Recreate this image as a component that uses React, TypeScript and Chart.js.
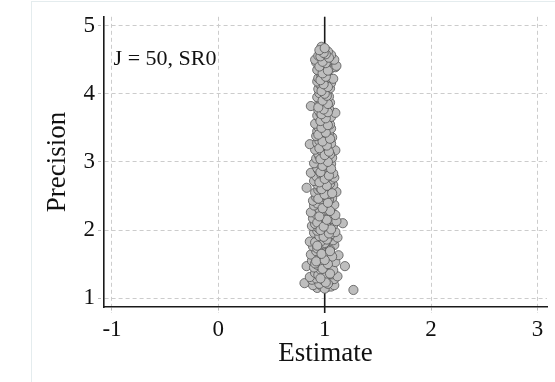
import React, { useEffect, useRef } from "react";
import { Chart, registerables } from "chart.js";

Chart.register(...registerables);

const xTicks = [-1, 0, 1, 2, 3];
const yTicks = [1, 2, 3, 4, 5];
const annotationText = "J = 50, SR0";
const xTitle = "Estimate";
const yTitle = "Precision";
const refEstimate = 1;

// Estimates (x) and precisions (y)
const estimates = [
  1.27, 0.93, 1.02, 0.97, 1.06, 0.89, 1.0, 1.09,
  0.81, 0.95, 1.04, 0.88, 1.09, 0.99, 0.92, 1.03,
  0.86, 0.97, 1.07, 0.91, 1.01, 0.94, 1.12, 1.0,
  0.83, 1.19, 0.96, 1.05, 0.9, 1.0, 1.08, 0.93,
  0.98, 0.88, 1.06, 1.02, 0.94, 1.1, 0.91,
  0.99, 0.87, 1.04, 0.95, 1.13, 0.92, 1.01, 1.07,
  0.96, 1.03, 0.89, 1.09, 0.99, 0.93, 1.05,
  0.86, 1.0, 1.08, 0.94, 1.03, 0.97, 1.12, 0.91,
  0.98, 1.06, 0.9, 1.01, 0.95, 1.1, 0.93,
  1.17, 0.97, 1.04, 0.88, 1.0, 0.94, 1.08, 0.91,
  1.02, 0.96, 0.89, 1.06, 0.99, 1.11, 0.93,
  1.0, 0.92, 1.07, 0.97, 1.03, 0.87, 1.1,
  0.95, 1.05, 0.9, 1.01, 0.98, 1.09, 0.93,
  0.89, 1.02, 0.96, 1.07, 0.99, 0.92, 1.04,
  0.97, 1.05, 0.91, 1.0, 1.11, 0.94, 1.03,
  0.83, 0.96, 1.02, 1.08, 0.93, 0.99, 1.05,
  0.9, 1.0, 1.06, 0.95, 1.03, 0.92, 1.09,
  0.87, 1.08, 0.97, 1.01, 0.94, 1.04, 0.99,
  0.93, 1.02, 0.96, 1.06, 0.9, 1.0,
  0.98, 1.04, 0.92, 1.01, 0.95, 1.07, 0.99,
  1.1, 0.94, 1.0, 0.97, 1.05, 0.91, 1.02,
  0.86, 0.96, 1.03, 0.99, 1.06, 0.93, 1.01,
  0.95, 1.02, 0.98, 1.07, 0.92, 1.0,
  0.97, 1.04, 0.93, 1.01, 0.96, 1.06, 0.99,
  0.94, 1.0, 1.05, 0.97, 1.02, 0.91,
  0.98, 1.03, 0.95, 1.0, 0.93, 1.06, 0.99,
  1.1, 0.96, 1.01, 0.94, 1.04, 0.98,
  0.87, 0.97, 1.02, 0.95, 1.05, 1.0,
  0.96, 1.01, 0.93, 1.04, 0.98, 1.0,
  0.95, 1.02, 0.98, 0.94, 1.05, 1.0,
  0.97, 1.03, 0.95, 1.0, 0.93, 1.06,
  0.99, 0.94, 1.04, 0.97, 1.02, 1.08,
  0.96, 1.01, 0.93, 1.05, 0.98, 1.1,
  1.11, 0.95, 1.0, 0.92, 1.03, 0.97,
  0.91, 1.09, 0.98, 1.02, 0.94, 1.06, 1.0,
  0.96, 1.01, 0.98, 1.03, 0.97,
  // second pass, denser core
  1.01, 0.96, 1.05, 0.98, 1.03, 0.92, 1.0, 0.97, 1.05, 0.93, 1.02, 0.99, 1.04, 0.96, 1.06,
  0.99, 1.02, 0.95, 1.05, 0.98, 1.03, 0.94, 1.0, 1.07, 0.97, 1.02, 0.95, 1.0, 1.04, 0.96, 1.06, 0.98,
  1.03, 0.96, 1.0, 1.04, 0.95, 1.02, 0.98, 1.05, 0.94, 1.01, 0.97, 1.03, 0.96, 1.01, 0.97, 1.03, 0.99, 0.94, 1.03, 0.98, 1.02,
  1.0, 0.97, 1.03, 0.99, 0.96, 1.01, 0.98, 1.03, 0.95, 1.01, 0.98, 1.04, 0.96, 1.01, 0.99, 0.95, 1.0,
];

const precisions = [
  1.12, 1.15, 1.16, 1.18, 1.17, 1.19, 1.14, 1.19,
  1.22, 1.21, 1.24, 1.27, 1.28, 1.26, 1.29, 1.21,
  1.31, 1.33, 1.35, 1.37, 1.38, 1.34, 1.32, 1.31,
  1.47, 1.47, 1.42, 1.44, 1.45, 1.48, 1.41, 1.49,
  1.52, 1.55, 1.57, 1.59, 1.58, 1.53, 1.51,
  1.62, 1.64, 1.66, 1.68, 1.63, 1.69, 1.67, 1.61,
  1.72, 1.74, 1.76, 1.78, 1.79, 1.73, 1.71,
  1.83, 1.81, 1.85, 1.87, 1.88, 1.84, 1.89, 1.82,
  1.92, 1.94, 1.96, 1.98, 1.91, 1.97, 1.99,
  2.1, 2.02, 2.04, 2.06, 2.08, 2.03, 2.07, 2.09,
  2.12, 2.14, 2.17, 2.16, 2.19, 2.13, 2.11,
  2.21, 2.23, 2.25, 2.27, 2.29, 2.26, 2.22,
  2.31, 2.33, 2.36, 2.38, 2.34, 2.37, 2.39,
  2.43, 2.41, 2.45, 2.47, 2.49, 2.48, 2.44,
  2.51, 2.53, 2.55, 2.57, 2.56, 2.59, 2.58,
  2.62, 2.61, 2.64, 2.66, 2.67, 2.69, 2.68,
  2.72, 2.71, 2.74, 2.76, 2.78, 2.79, 2.77,
  2.84, 2.83, 2.81, 2.86, 2.88, 2.89, 2.82,
  2.91, 2.93, 2.96, 2.97, 2.98, 2.99,
  3.01, 3.03, 3.05, 3.07, 3.08, 3.06, 3.09,
  3.17, 3.12, 3.14, 3.16, 3.11, 3.18, 3.19,
  3.26, 3.21, 3.23, 3.25, 3.27, 3.28, 3.29,
  3.31, 3.33, 3.35, 3.36, 3.38, 3.39,
  3.41, 3.42, 3.45, 3.46, 3.48, 3.49, 3.44,
  3.51, 3.53, 3.55, 3.57, 3.58, 3.56,
  3.61, 3.63, 3.65, 3.67, 3.68, 3.66, 3.69,
  3.72, 3.71, 3.74, 3.76, 3.78, 3.79,
  3.82, 3.81, 3.84, 3.86, 3.87, 3.89,
  3.91, 3.93, 3.95, 3.96, 3.98, 3.99,
  4.01, 4.03, 4.05, 4.07, 4.08, 4.09,
  4.11, 4.13, 4.15, 4.17, 4.18, 4.16,
  4.21, 4.23, 4.24, 4.26, 4.28, 4.22,
  4.31, 4.33, 4.35, 4.36, 4.38, 4.39,
  4.41, 4.42, 4.44, 4.46, 4.48, 4.49,
  4.5, 4.5, 4.52, 4.54, 4.56, 4.57, 4.59,
  4.61, 4.63, 4.66, 4.62, 4.69,
  // second pass, denser core
  1.23, 1.29, 1.36, 1.43, 1.5, 1.54, 1.56, 1.65, 1.69, 1.77, 1.86, 1.9, 1.95, 2.0, 2.01,
  2.05, 2.15, 2.2, 2.28, 2.32, 2.4, 2.46, 2.52, 2.54, 2.6, 2.65, 2.7, 2.75, 2.8, 2.85, 2.9, 2.94,
  3.0, 3.04, 3.1, 3.15, 3.2, 3.24, 3.3, 3.34, 3.4, 3.43, 3.5, 3.54, 3.6, 3.64, 3.7, 3.73, 3.77, 3.8, 3.85, 3.9, 3.97,
  4.0, 4.04, 4.1, 4.14, 4.2, 4.25, 4.3, 4.34, 4.4, 4.45, 4.47, 4.53, 4.55, 4.58, 4.6, 4.64, 4.67,
];

const FONT = "'Liberation Serif', 'Times New Roman', serif";

export default function App() {
  const canvasRef = useRef<HTMLCanvasElement | null>(null);

  useEffect(() => {
    const canvas = canvasRef.current;
    if (!canvas) return;
    const n = Math.min(estimates.length, precisions.length);
    const points = [];
    for (let i = 0; i < n; i++) points.push({ x: estimates[i], y: precisions[i] });

    const refLine = {
      id: "refLine",
      beforeDatasetsDraw(chart: any) {
        const { ctx, chartArea, scales } = chart;
        const px = scales.x.getPixelForValue(refEstimate);
        ctx.save();
        ctx.strokeStyle = "#1a1a1a";
        ctx.lineWidth = 1.6;
        ctx.beginPath();
        ctx.moveTo(px, chartArea.top);
        ctx.lineTo(px, chartArea.bottom + 6);
        ctx.stroke();
        ctx.restore();
      },
      afterDraw(chart: any) {
        const { ctx, scales } = chart;
        ctx.save();
        ctx.font = "22px " + FONT;
        ctx.fillStyle = "#111";
        ctx.textAlign = "left";
        ctx.textBaseline = "middle";
        ctx.fillText(annotationText, scales.x.getPixelForValue(-0.985), scales.y.getPixelForValue(4.5));
        ctx.restore();
      },
    };

    const gridStyle = {
      color: "#cccccc",
      lineWidth: 1,
      tickLength: 6,
      tickColor: "#bbbbbb",
      tickBorderDash: [3, 2],
    };

    const chart = new Chart(canvas, {
      type: "scatter",
      data: {
        datasets: [
          {
            data: points,
            pointRadius: 4.6,
            pointHoverRadius: 4.6,
            backgroundColor: "#bebebe",
            borderColor: "#555555",
            borderWidth: 0.8,
          },
        ],
      },
      options: {
        animation: false,
        responsive: false,
        devicePixelRatio: 1,
        layout: { padding: { left: 0, right: 8, top: 15, bottom: 0 } },
        plugins: { legend: { display: false }, tooltip: { enabled: false } },
        scales: {
          x: {
            type: "linear",
            min: -1.075,
            max: 3.09,
            afterBuildTicks: (scale: any) => {
              scale.ticks = xTicks.map((v) => ({ value: v }));
            },
            afterFit: (scale: any) => {
              scale.height = 75;
            },
            grid: { ...gridStyle },
            border: { display: true, color: "#1a1a1a", width: 1.6, dash: [4, 3] },
            ticks: {
              color: "#111",
              padding: 3,
              font: { family: FONT, size: 23 },
              maxRotation: 0,
            },
            title: {
              display: true,
              text: xTitle,
              color: "#111",
              font: { family: FONT, size: 27 },
              padding: { top: 0, bottom: 12 },
            },
          },
          y: {
            type: "linear",
            min: 0.87,
            max: 5.13,
            afterBuildTicks: (scale: any) => {
              scale.ticks = yTicks.map((v) => ({ value: v }));
            },
            afterFit: (scale: any) => {
              scale.width = 104;
            },
            grid: { ...gridStyle },
            border: { display: true, color: "#1a1a1a", width: 1.6, dash: [4, 3] },
            ticks: {
              color: "#111",
              padding: 3,
              font: { family: FONT, size: 23 },
            },
            title: {
              display: true,
              text: yTitle,
              color: "#111",
              font: { family: FONT, size: 27 },
              padding: { top: 42, bottom: 0 },
            },
          },
        },
      },
      plugins: [refLine],
    } as any);

    return () => chart.destroy();
  }, []);

  return (
    <div style={{ position: "absolute", left: 0, top: 0, width: 555, height: 382, background: "#fff" }}>
      <div
        style={{
          position: "absolute",
          left: 31,
          top: 1,
          width: 524,
          height: 381,
          borderTop: "1px solid #e4ecee",
          borderLeft: "1px solid #e4ecee",
        }}
      />
      <canvas ref={canvasRef} width={555} height={382} style={{ position: "absolute", left: 0, top: 0 }} />
    </div>
  );
}
